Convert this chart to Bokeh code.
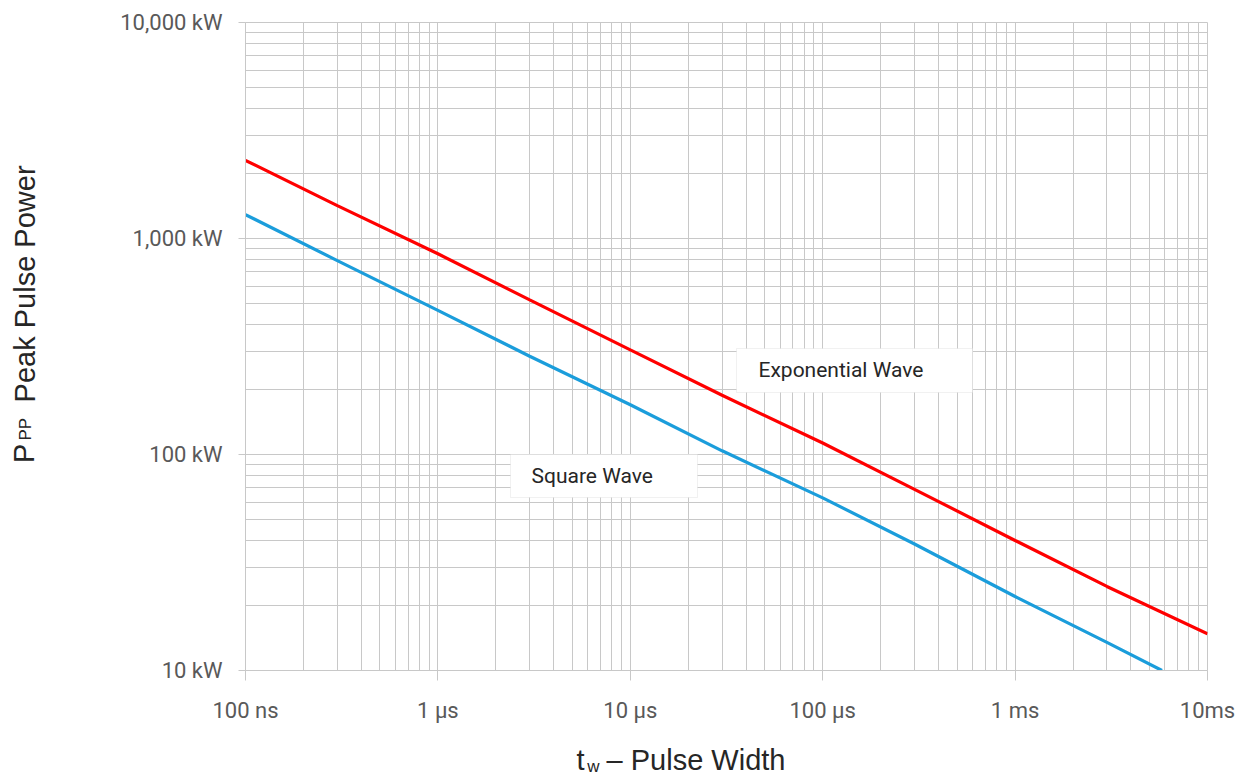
import math
from bokeh.plotting import figure
from bokeh.layouts import column, row
from bokeh.models import FixedTicker, Label, BoxAnnotation, ColumnDataSource
from bokeh.core.properties import value
from bokeh.embed import file_html
from bokeh.resources import INLINE

# ---- data (pulse width in microseconds, peak pulse power in kW) ----
exp_t_us = [0.1, 0.3, 1, 3, 10, 30, 100, 300, 1000, 3000, 10000]
exp_kw = [2300, 1420, 850, 520, 305, 188, 113, 69, 40, 24.5, 14.8]
sq_t_us = [0.1, 0.3, 1, 3, 10, 30, 100, 300, 1000, 3000, 5800]
sq_kw = [1290, 790, 465, 285, 170, 104, 63, 38.5, 22, 13.5, 10]

x_ticks = [0.1, 1, 10, 100, 1000, 10000]
x_tick_labels = ["100 ns", "1 µs", "10 µs", "100 µs", "1 ms", "10ms"]
y_ticks = [10, 100, 1000, 10000]
y_tick_labels = ["10 kW", "100 kW", "1,000 kW", "10,000 kW"]

GRID = "#c8c8c8"
TICK_FONT = "Roboto"
TITLE_FONT = "Liberation Sans"
TC = "#262626"

x_minor = [d * k for d in x_ticks[:-1] for k in range(2, 10)]
y_minor = [d * k for d in y_ticks[:-1] for k in range(2, 10)]

p = figure(width=1184, height=725, x_axis_type="log", y_axis_type="log",
           x_range=(x_ticks[0], x_ticks[-1]), y_range=(y_ticks[0], y_ticks[-1]),
           output_backend="svg", toolbar_location=None,
           min_border_left=185, min_border_right=37, min_border_top=22, min_border_bottom=54)

p.background_fill_color = "white"
p.border_fill_color = "white"
p.outline_line_color = GRID

p.xaxis.ticker = FixedTicker(ticks=x_ticks, minor_ticks=x_minor)
p.yaxis.ticker = FixedTicker(ticks=y_ticks, minor_ticks=y_minor)
p.xaxis.major_label_overrides = {v: s for v, s in zip(x_ticks, x_tick_labels)}
p.yaxis.major_label_overrides = {v: s for v, s in zip(y_ticks, y_tick_labels)}

for ax in (p.xaxis, p.yaxis):
    ax.axis_line_color = GRID
    ax.major_tick_line_color = GRID
    ax.minor_tick_line_color = None
    ax.major_tick_in = 0
    ax.major_label_text_font = TICK_FONT
    ax.major_label_text_font_size = "22px"
    ax.major_label_text_color = "#595959"
p.xaxis.major_tick_out = 10
p.yaxis.major_tick_out = 7
p.xaxis.major_label_standoff = 17
p.yaxis.major_label_standoff = 16

for g in (p.xgrid, p.ygrid):
    g.grid_line_color = GRID
    g.minor_grid_line_color = GRID
    g.grid_line_width = 1
    g.minor_grid_line_width = 1

p.line(x="t", y="p", source=ColumnDataSource(dict(t=exp_t_us, p=exp_kw)),
       line_color="#ff0000", line_width=3.2)
p.line(x="t", y="p", source=ColumnDataSource(dict(t=sq_t_us, p=sq_kw)),
       line_color="#1b9ddb", line_width=3.2)

# series label boxes (screen units relative to frame)
for (l, r, b, t, txt, tx, ty) in [
        (491, 727, 278, 322, "Exponential Wave", 513, 301),
        (265, 452, 173, 216, "Square Wave", 286, 195)]:
    p.add_layout(BoxAnnotation(left=l, right=r, bottom=b, top=t,
                               left_units="screen", right_units="screen",
                               bottom_units="screen", top_units="screen",
                               fill_color="white", fill_alpha=1.0,
                               line_color="#d0d0d0", line_width=1))
    p.add_layout(Label(x=tx, y=ty, x_units="screen", y_units="screen", text=txt,
                       text_font=TICK_FONT, text_font_size="21px", text_color=TC,
                       text_baseline="middle", text_align="left"))

# ---- y-axis title panel (left) ----
yt = figure(width=60, height=725, x_range=(0, 60), y_range=(0, 725),
            x_axis_location=None, y_axis_location=None, min_border=0,
            output_backend="svg", toolbar_location=None)
yt.grid.visible = False
yt.outline_line_color = None
yt.background_fill_color = "white"
yt.border_fill_color = "white"
for (xx, yy, txt, fs) in [(23, 243, "P", "29px"), (25, 270, "PP", "17px"),
                          (24, 432.5, "Peak Pulse Power", "29px")]:
    yt.text(x=[xx], y=[yy], text=[txt], angle=math.pi / 2,
            text_font=value(TITLE_FONT), text_font_size=fs, text_color=TC,
            text_baseline="middle", text_align="center")

# ---- x-axis title panel (bottom) ----
xt = figure(width=1244, height=50, x_range=(0, 1244), y_range=(0, 50),
            x_axis_location=None, y_axis_location=None, min_border=0,
            output_backend="svg", toolbar_location=None)
xt.grid.visible = False
xt.outline_line_color = None
xt.background_fill_color = "white"
xt.border_fill_color = "white"
for (xx, yy, txt, fs) in [(580, 16, "t", "29px"), (593, 9.5, "w", "17px"),
                          (695.5, 16, "– Pulse Width", "29px")]:
    xt.text(x=[xx], y=[yy], text=[txt],
            text_font=value(TITLE_FONT), text_font_size=fs, text_color=TC,
            text_baseline="middle", text_align="center")

layout = column(row(yt, p, spacing=0), xt, spacing=0)
open("out.html", "w").write(file_html(layout, INLINE))
